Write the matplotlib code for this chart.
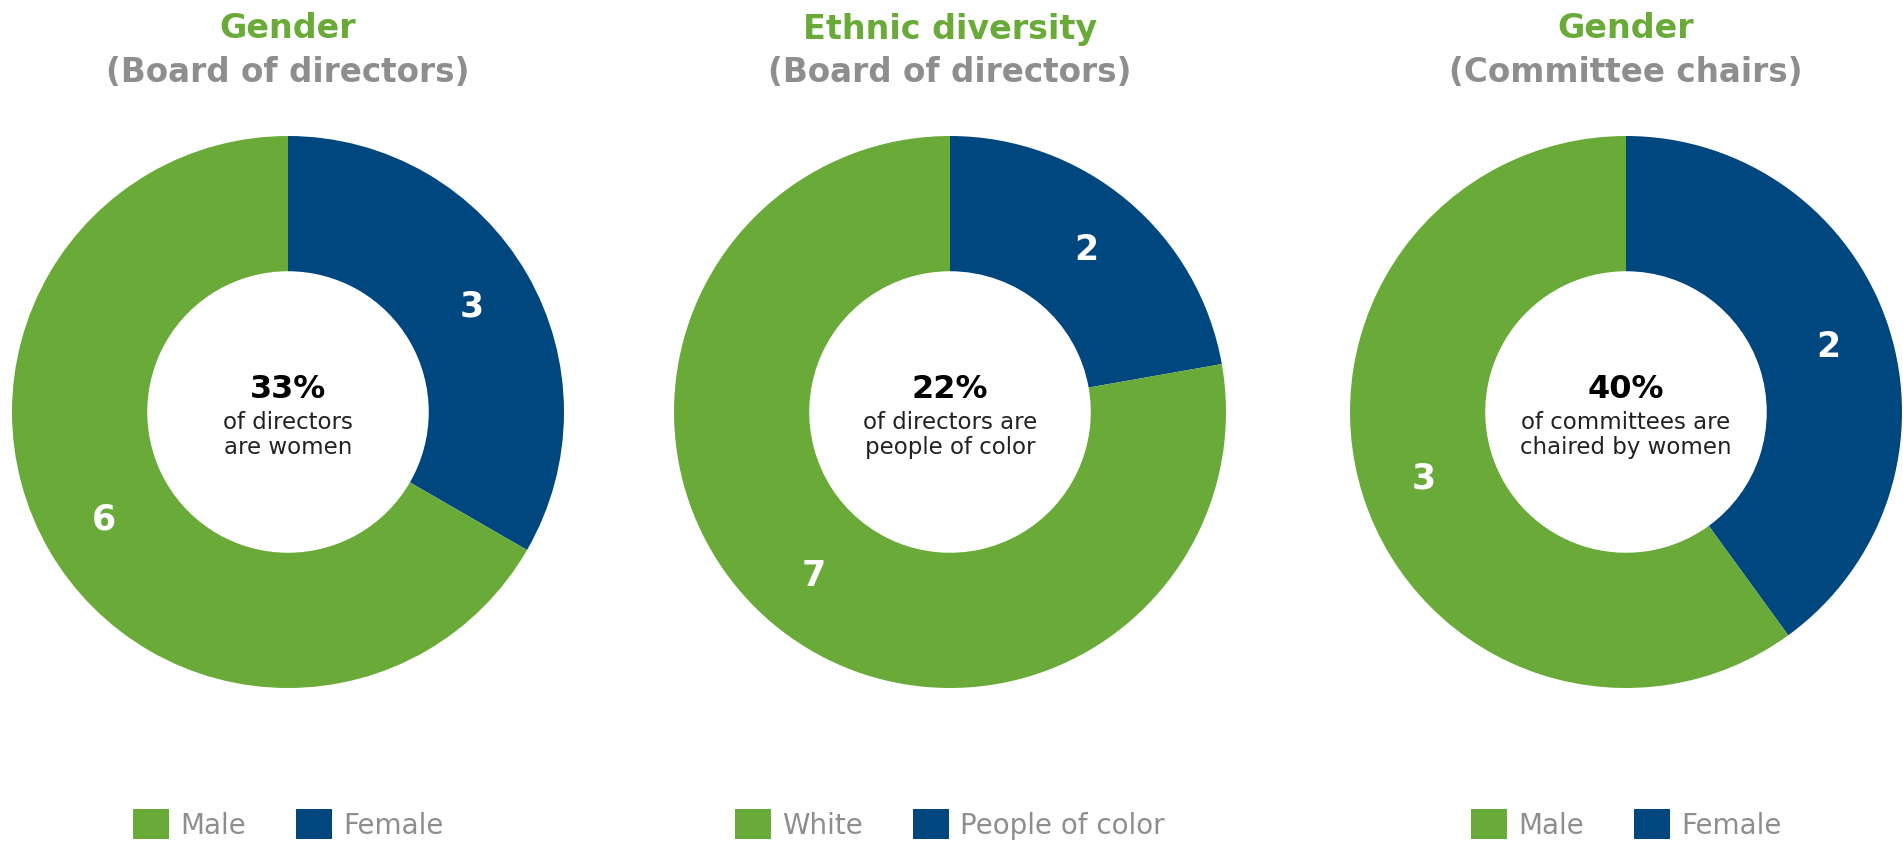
import matplotlib.pyplot as plt
from matplotlib.patches import Patch

green = '#6aaa38'
blue = '#00467f'
grey = '#8e8e8e'

titles = ['Gender', 'Ethnic diversity', 'Gender']
subtitles = ['(Board of directors)', '(Board of directors)', '(Committee chairs)']
labels = [['Female', 'Male'], ['People of color', 'White'], ['Female', 'Male']]
values = [[3, 6], [2, 7], [2, 3]]
pcts = ['33%', '22%', '40%']
notes = ['of directors\nare women', 'of directors are\npeople of color', 'of committees are\nchaired by women']

W, H = 19.03, 8.45
fig = plt.figure(figsize=(W, H), dpi=100)
plt.rcParams['font.family'] = ['DejaVu Sans']

centers_x = [288, 950, 1626]
cy = 413
R = 276

for i in range(3):
    cx = centers_x[i]
    ax = fig.add_axes([(cx - R) / 1903, (845 - cy - R) / 845, 2 * R / 1903, 2 * R / 845])
    tot = sum(values[i])
    wedges, _, autotexts = ax.pie(values[i], colors=[blue, green], startangle=90, counterclock=False,
                                  radius=1, wedgeprops=dict(width=0.49, linewidth=0),
                                  autopct=lambda p, t=tot: '{:d}'.format(int(round(p * t / 100))),
                                  pctdistance=0.77,
                                  textprops=dict(color='white', fontsize=25, fontweight='semibold'))
    ax.set_xlim(-1, 1)
    ax.set_ylim(-1, 1)
    ax.axis('off')

    # centre text
    ax.text(0, 0.085, pcts[i], ha='center', va='center', fontsize=23, fontweight='bold', color='black')
    ax.text(0, -0.08, notes[i], ha='center', va='center', fontsize=16.5, color='#222222', linespacing=1.1)

    # titles
    fig.text(cx / 1903, (845 - 29) / 845, titles[i], ha='center', va='center',
             fontsize=24, fontweight='bold', color=green)
    fig.text(cx / 1903, (845 - 73) / 845, subtitles[i], ha='center', va='center',
             fontsize=23.5, fontweight='bold', color=grey)

    # legend
    handles = [Patch(facecolor=green, label=labels[i][1]), Patch(facecolor=blue, label=labels[i][0])]
    leg = ax.legend(handles=handles, loc='center', bbox_to_anchor=(0.5, (cy - 825 + R) / (2 * R)),
                    ncol=2, frameon=False, fontsize=20, handlelength=1.3, handleheight=1.3,
                    handletextpad=0.4, columnspacing=1.8, borderaxespad=0)
    for t in leg.get_texts():
        t.set_color(grey)

fig.savefig('out.png', dpi=100)
